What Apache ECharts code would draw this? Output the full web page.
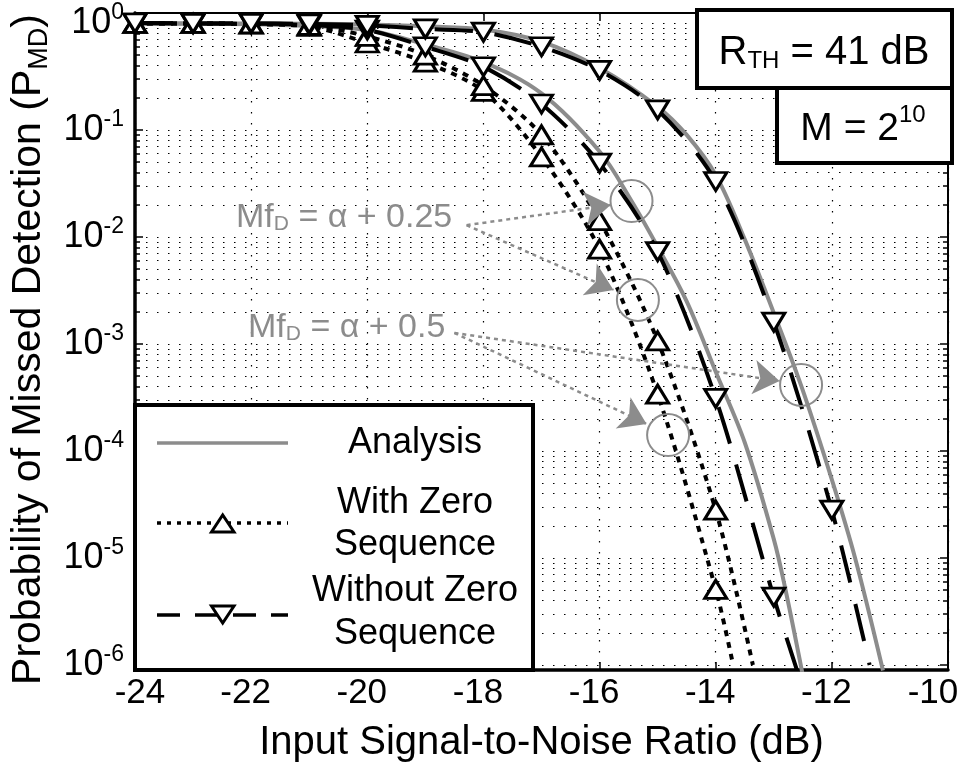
<!DOCTYPE html>
<html>
<head>
<meta charset="utf-8">
<script src="https://cdn.jsdelivr.net/npm/echarts@6/dist/echarts.min.js"></script>
<style>
  html, body { margin: 0; padding: 0; background: #fff; }
  #chart { width: 965px; height: 765px; }
</style>
</head>
<body>
<div id="chart"></div>
<script>
// ---- data ---------------------------------------------------------------
const snrTicks = [-24, -22, -20, -18, -16, -14, -12, -10];
const decadeTicks = [1e-6, 1e-5, 1e-4, 1e-3, 1e-2, 1e-1, 1];

// simulated points, one per dB
const withZeroSnrA = [-24, -23, -22, -21, -20, -19, -18, -17, -16, -15, -14];
const withZeroA    = [0.99, 0.99, 0.975, 0.93, 0.65, 0.43, 0.23, 0.056, 7.7e-3, 3.4e-4, 5.1e-6];
const withZeroTailA = [-13.7, 1e-6];

const withZeroSnrB = [-24, -23, -22, -21, -20, -19, -18, -17, -16, -15, -14];
const withZeroB    = [0.99, 0.99, 0.98, 0.95, 0.75, 0.5, 0.26, 0.09, 0.0142, 1.07e-3, 2.8e-5];
const withZeroTailB = [-13.36, 1e-6];

const withoutZeroSnrA = [-24, -23, -22, -21, -20, -19, -18, -17, -16, -15, -14, -13];
const withoutZeroA    = [1.0, 0.99, 0.99, 0.96, 0.86, 0.6, 0.39, 0.175, 0.049, 7.3e-3, 3.1e-4, 4.3e-6];
const withoutZeroTailA = [-12.6, 8.9e-7];

const withoutZeroSnrB = [-24, -23, -22, -21, -20, -19, -18, -17, -16, -15, -14, -13, -12];
const withoutZeroB    = [1.0, 0.99, 0.99, 0.98, 0.95, 0.88, 0.82, 0.6, 0.36, 0.154, 0.033, 1.6e-3, 2.8e-5];
const withoutZeroTailB = [-11.35, 1e-6];

// analytical curves
const analysisSnrA = [-24, -22, -21, -20, -19, -18, -17, -16, -15.45, -15, -14.5, -14, -13.5, -13, -12.8, -12.51];
const analysisA    = [0.99, 0.975, 0.94, 0.86, 0.63, 0.43, 0.22, 0.063, 0.0217, 8.1e-3, 2.5e-3, 5.5e-4, 1.2e-4, 1.5e-5, 5.1e-6, 8.5e-7];
const analysisSnrB = [-24, -21, -20, -19, -18, -17, -16, -15, -14.5, -14, -13.5, -13, -12.53, -12, -11.6, -11.12];
const analysisB    = [0.995, 0.985, 0.97, 0.93, 0.87, 0.67, 0.38, 0.165, 0.09, 0.038, 9.5e-3, 1.95e-3, 4.1e-4, 5.4e-5, 1e-5, 8.9e-7];

// callouts: circled points and the arrows pointing at them
const circledPoints = [[-15.45, 0.0217], [-15.34, 2.58e-3], [-12.53, 4.14e-4], [-14.82, 1.41e-4]];
const arrowFrom = [[-18.29, 0.0129], [-18.29, 0.0129], [-18.5, 1.27e-3], [-18.5, 1.27e-3]];
const arrowTo   = [[-15.81, 0.0199], [-15.76, 3.2e-3], [-12.9, 4.51e-4], [-15.19, 1.79e-4]];
const arrowBend = [-0.06, 0.05, 0.12, 0.08];

// ---- helpers ------------------------------------------------------------
const FONT = '"Liberation Sans", Arial, Helvetica, sans-serif';
const GREY = '#8c8c8c';
const Y_MIN = 8.98e-7;
const Y_MAX = 1.24;

const minorTicks = [];
decadeTicks.slice(0, -1).forEach(d => {
  for (let k = 1; k <= 9; k++) minorTicks.push(Number((k * d).toPrecision(3)));
});
minorTicks.push(1);

function pairs(xs, ys) { return xs.map((x, i) => [x, ys[i]]); }

function markerSeries(name, xs, ys, tail, lineType, rotate) {
  return {
    type: 'line', name: name, silent: true, smooth: 0.3,
    data: pairs(xs, ys).concat([{ value: tail, symbol: 'none' }]),
    symbol: 'triangle', symbolSize: [22, 18], symbolRotate: rotate, showAllSymbol: true,
    itemStyle: { color: '#fff', borderColor: '#000', borderWidth: 3 },
    lineStyle: { color: '#000', width: 4, type: lineType, cap: 'butt' },
    z: 3
  };
}

function analysisSeries(xs, ys) {
  return {
    type: 'line', name: 'Analysis', silent: true, smooth: 0.35,
    data: pairs(xs, ys), symbol: 'none',
    lineStyle: { color: GREY, width: 4 }, z: 2
  };
}

function calloutCaption(text, left, top) {
  return {
    type: 'text', left: left, top: top, z: 50, silent: true,
    style: {
      text: text,
      rich: {
        a: { fontSize: 34, lineHeight: 40, fontFamily: FONT, fill: GREY, verticalAlign: 'bottom' },
        s: { fontSize: 21, lineHeight: 28, fontFamily: FONT, fill: GREY, verticalAlign: 'bottom' }
      }
    }
  };
}

const chart = echarts.init(document.getElementById('chart'), null, { renderer: 'canvas' });

const dotted = { color: '#000', width: 1.2, type: [1.5, 9.5] };

const option = {
  animation: false,
  backgroundColor: '#fff',
  textStyle: { fontFamily: FONT },
  grid: { left: 135, right: 17, top: 13, bottom: 95, containLabel: false, outerBoundsMode: 'none' },
  xAxis: [
    {
      type: 'value', position: 'bottom', min: -24, max: -10, interval: 2,
      axisLine: { show: true, onZero: false, lineStyle: { color: '#000', width: 3.5 } },
      axisTick: { show: true, inside: true, length: 8, lineStyle: { color: '#000', width: 1.5 } },
      axisLabel: {
        show: true, margin: 6, color: '#000', fontFamily: FONT,
        formatter: v => (v === snrTicks[0] ? '{f|' + v + '}' : v === snrTicks[snrTicks.length - 1] ? '{l|' + v + '}' : '{n|' + v + '}'),
        rich: {
          n: { fontSize: 35, fontFamily: FONT, color: '#000', padding: [0, 11, 0, 0] },
          f: { fontSize: 35, fontFamily: FONT, color: '#000', padding: [0, 0, 0, 10] },
          l: { fontSize: 35, fontFamily: FONT, color: '#000', padding: [0, 30, 0, 0] }
        }
      },
      splitLine: { show: true, lineStyle: dotted },
      name: 'Input Signal-to-Noise Ratio (dB)', nameLocation: 'middle', nameGap: 50,
      nameTextStyle: { fontSize: 40, lineHeight: 46, color: '#000', fontFamily: FONT }
    },
    {
      type: 'value', position: 'top', min: -24, max: -10, interval: 2,
      axisLine: { show: true, onZero: false, lineStyle: { color: '#000', width: 2 } },
      axisTick: { show: true, inside: true, length: 8, lineStyle: { color: '#000', width: 1.5 } },
      axisLabel: { show: false }, splitLine: { show: false }
    }
  ],
  yAxis: [
    {
      type: 'log', logBase: 10, position: 'left', min: Y_MIN, max: Y_MAX,
      axisLine: { show: true, onZero: false, lineStyle: { color: '#000', width: 3.5 } },
      axisTick: { show: true, inside: true, length: 8, customValues: decadeTicks, lineStyle: { color: '#000', width: 1.5 } },
      axisLabel: {
        show: true, margin: 11, customValues: decadeTicks, color: '#000',
        formatter: v => '{b|10}{s|' + Math.round(Math.log10(v)) + '}',
        rich: {
          b: { fontSize: 36, lineHeight: 43, fontFamily: FONT, color: '#000' },
          s: { fontSize: 23, lineHeight: 21, verticalAlign: 'top', fontFamily: FONT, color: '#000' }
        }
      },
      splitLine: { show: false },
      name: 'Probability of Missed Detection (P{s|MD})', nameLocation: 'middle', nameGap: 74,
      nameTextStyle: {
        fontSize: 41, lineHeight: 48, color: '#000', fontFamily: FONT, padding: [0, 16, 0, 0],
        rich: { s: { fontSize: 27, lineHeight: 29, verticalAlign: 'bottom', fontFamily: FONT, color: '#000' } }
      }
    },
    {
      type: 'log', logBase: 10, position: 'left', min: Y_MIN, max: Y_MAX,
      axisLine: { show: false },
      axisTick: { show: true, inside: true, length: 5, customValues: minorTicks, lineStyle: { color: '#000', width: 1.5 } },
      axisLabel: { show: false },
      splitLine: { show: true, lineStyle: dotted }
    },
    {
      type: 'log', logBase: 10, position: 'right', min: Y_MIN, max: Y_MAX,
      axisLine: { show: true, onZero: false, lineStyle: { color: '#000', width: 2 } },
      axisTick: { show: true, inside: true, length: 8, customValues: decadeTicks, lineStyle: { color: '#000', width: 1.5 } },
      axisLabel: { show: false }, splitLine: { show: false }
    },
    {
      type: 'log', logBase: 10, position: 'right', min: Y_MIN, max: Y_MAX,
      axisLine: { show: false },
      axisTick: { show: true, inside: true, length: 5, customValues: minorTicks, lineStyle: { color: '#000', width: 1.5 } },
      axisLabel: { show: false }, splitLine: { show: false }
    }
  ],
  series: [
    analysisSeries(analysisSnrA, analysisA),
    analysisSeries(analysisSnrB, analysisB),
    markerSeries('With Zero Sequence', withZeroSnrA, withZeroA, withZeroTailA, [6, 6], 0),
    markerSeries('With Zero Sequence', withZeroSnrB, withZeroB, withZeroTailB, [6, 6], 0),
    markerSeries('Without Zero Sequence', withoutZeroSnrA, withoutZeroA, withoutZeroTailA, [38, 22], 180),
    markerSeries('Without Zero Sequence', withoutZeroSnrB, withoutZeroB, withoutZeroTailB, [38, 22], 180),
    {
      type: 'line', name: 'callouts', silent: true, data: [], z: 4,
      markLine: {
        silent: true, symbol: ['none', 'arrow'], symbolSize: 26, animation: false,
        label: { show: false },
        lineStyle: { color: GREY, width: 2.5, type: [4, 4] },
        data: arrowFrom.map((p, i) => [
          { coord: p, lineStyle: { curveness: arrowBend[i] } },
          { coord: arrowTo[i] }
        ])
      },
      markPoint: {
        silent: true, symbol: 'circle', symbolSize: 42, animation: false,
        label: { show: false },
        itemStyle: { color: 'rgba(0,0,0,0)', borderColor: GREY, borderWidth: 2 },
        data: circledPoints.map(p => ({ coord: p }))
      }
    }
  ],
  graphic: [
    // callout captions
    calloutCaption('{a|Mf}{s|D}{a| = α + 0.25}', 236, 201),
    calloutCaption('{a|Mf}{s|D}{a| = α + 0.5}', 248, 311),
    // parameter boxes
    {
      type: 'rect', z: 60, silent: true,
      shape: { x: 697, y: 10, width: 255, height: 78 },
      style: { fill: '#fff', stroke: '#000', lineWidth: 4 }
    },
    {
      type: 'text', z: 61, silent: true, x: 824, y: 49,
      style: {
        text: '{a|R}{s|TH}{a| = 41 dB}', align: 'center', verticalAlign: 'middle',
        rich: {
          a: { fontSize: 40, lineHeight: 48, fontFamily: FONT, fill: '#000', verticalAlign: 'bottom' },
          s: { fontSize: 24, lineHeight: 26, fontFamily: FONT, fill: '#000', verticalAlign: 'bottom' }
        }
      }
    },
    {
      type: 'rect', z: 60, silent: true,
      shape: { x: 777, y: 88, width: 175, height: 75 },
      style: { fill: '#fff', stroke: '#000', lineWidth: 4 }
    },
    {
      type: 'text', z: 61, silent: true, x: 863, y: 126,
      style: {
        text: '{a|M = 2}{s|10}', align: 'center', verticalAlign: 'middle',
        rich: {
          a: { fontSize: 39, lineHeight: 46, fontFamily: FONT, fill: '#000', verticalAlign: 'bottom' },
          s: { fontSize: 24, lineHeight: 17, fontFamily: FONT, fill: '#000', verticalAlign: 'top' }
        }
      }
    },
    // legend
    {
      type: 'group', z: 70, silent: true,
      children: [
        { type: 'rect', z: 70, shape: { x: 135, y: 405, width: 398, height: 265 }, style: { fill: '#fff', stroke: '#000', lineWidth: 4 } },
        { type: 'line', z: 71, shape: { x1: 157, y1: 443, x2: 288, y2: 443 }, style: { stroke: GREY, lineWidth: 3.5 } },
        { type: 'text', z: 71, x: 415, y: 443, style: { text: 'Analysis', fontSize: 36, fontFamily: FONT, fill: '#000', align: 'center', verticalAlign: 'middle' } },
        { type: 'line', z: 71, shape: { x1: 157, y1: 523, x2: 288, y2: 523 }, style: { stroke: '#000', lineWidth: 3.5, lineDash: [4, 6] } },
        { type: 'polygon', z: 72, shape: { points: [[211.5, 532], [234, 532], [222.7, 515]] }, style: { fill: '#fff', stroke: '#000', lineWidth: 3 } },
        { type: 'text', z: 71, x: 415, y: 524, style: { text: 'With Zero\nSequence', fontSize: 36, lineHeight: 42, fontFamily: FONT, fill: '#000', align: 'center', verticalAlign: 'middle' } },
        { type: 'line', z: 71, shape: { x1: 157, y1: 615, x2: 288, y2: 615 }, style: { stroke: '#000', lineWidth: 3.5, lineDash: [23, 15] } },
        { type: 'polygon', z: 72, shape: { points: [[211.5, 606], [234, 606], [222.7, 623]] }, style: { fill: '#fff', stroke: '#000', lineWidth: 3 } },
        { type: 'text', z: 71, x: 415, y: 613, style: { text: 'Without Zero\nSequence', fontSize: 36, lineHeight: 43, fontFamily: FONT, fill: '#000', align: 'center', verticalAlign: 'middle' } }
      ]
    }
  ]
};

chart.setOption(option);
</script>
</body>
</html>
